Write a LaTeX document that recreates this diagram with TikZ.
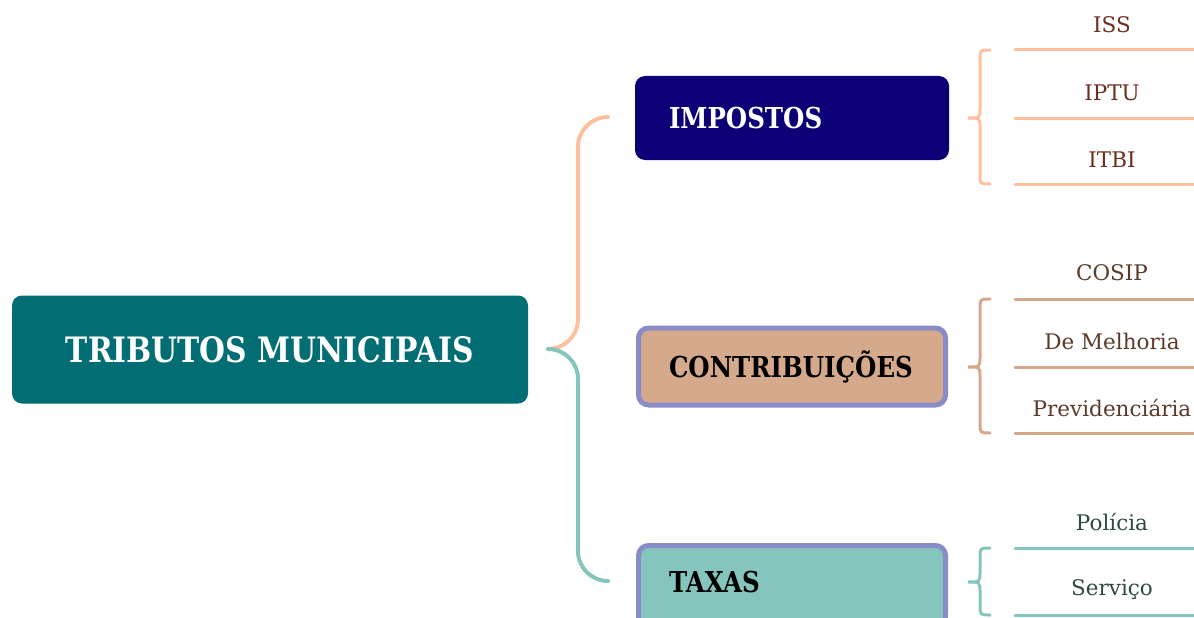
\documentclass[tikz,border=0pt]{standalone}
\usepackage{fontspec}
\setmainfont{DejaVu Serif}
\newfontfamily\headfont{DejaVu Serif}[FakeStretch=0.85]
\definecolor{rootc}{HTML}{026E73}
\definecolor{impc}{HTML}{0B0075}
\definecolor{conc}{HTML}{D5A98B}
\definecolor{taxc}{HTML}{86C5BE}
\definecolor{bordc}{HTML}{8A8CC8}
\definecolor{peach}{HTML}{FFC0A0}
\definecolor{tan}{HTML}{D4A88A}
\definecolor{imptext}{HTML}{6B2E1F}
\definecolor{context}{HTML}{5A3A2A}
\definecolor{taxtext}{HTML}{2E4A45}
\tikzset{
  catbox/.style={rounded corners=10pt, minimum width=314pt, minimum height=84pt,
    text width=246pt, align=left, inner xsep=34pt, inner ysep=0pt, anchor=north west,
    outer sep=0pt, font=\headfont\bfseries\fontsize{28.8}{30}\selectfont},
  framed/.style={draw=bordc, line width=5pt, minimum width=307pt, text width=246pt, inner xsep=30.5pt},
  leaf/.style={font=\fontsize{21.5}{24}\selectfont, inner sep=0pt},
  wire/.style={line width=4pt, line cap=round},
  brace/.style={line width=3pt, line cap=round},
}
\begin{document}
\begin{tikzpicture}[x=1pt,y=-1pt]
\useasboundingbox (0,0) rectangle (1194,618);
% root
\node[fill=rootc, rounded corners=10pt, minimum width=516pt, minimum height=108pt, outer sep=0pt,
  anchor=north west, text=white, font=\headfont\bfseries\fontsize{35}{40}\selectfont] (root) at (12,295.5) {TRIBUTOS MUNICIPAIS};
% categories
\node[catbox, fill=impc, text=white] (imp) at (635,76) {IMPOSTOS};
\node[catbox, framed, fill=conc, minimum height=77pt] (con) at (638.5,328) {CONTRIBUIÇÕES};
\node[catbox, framed, fill=taxc, minimum height=74pt] (tax) at (638.5,545.5) {TAXAS};
\fill[taxc] (641,600) rectangle (943,618);
\draw[bordc, line width=5pt] (638.5,600) -- (638.5,620) (945.5,600) -- (945.5,620);
% main connectors
\coordinate (j) at (548,349);
\coordinate (ji) at (608,117);
\coordinate (jt) at (608,581);
\draw[wire, peach, rounded corners=30pt] (j) -| (578,200) |- (ji);
\draw[wire, taxc, rounded corners=30pt] (j) -| (578,500) |- (jt);
% leaves: impostos
\node[leaf, text=imptext] (iss) at (1112,25) {ISS};
\node[leaf, text=imptext] (iptu) at (1112,93) {IPTU};
\node[leaf, text=imptext] (itbi) at (1112,160) {ITBI};
\draw[brace, peach] (1015,50) -- (1194,50);
\draw[brace, peach] (1015,118) -- (1194,118);
\draw[brace, peach] (1015,184) -- (1194,184);
\draw[brace, peach] (990,50) .. controls (980,50) .. (980,60) -- (980,108) .. controls (980,118) .. (968,118)
  .. controls (980,118) .. (980,128) -- (980,174) .. controls (980,184) .. (990,184);
% leaves: contribuicoes
\node[leaf, text=context] (cosip) at (1112,273) {COSIP};
\node[leaf, text=context] (mel) at (1112,341) {De Melhoria};
\node[leaf, text=context] (prev) at (1112,408) {Previdenciária};
\draw[brace, tan] (1015,299) -- (1194,299);
\draw[brace, tan] (1015,367) -- (1194,367);
\draw[brace, tan] (1015,433) -- (1194,433);
\draw[brace, tan] (990,299) .. controls (980,299) .. (980,309) -- (980,357) .. controls (980,367) .. (968,367)
  .. controls (980,367) .. (980,377) -- (980,423) .. controls (980,433) .. (990,433);
% leaves: taxas
\node[leaf, text=taxtext] (pol) at (1112,522) {Polícia};
\node[leaf, text=taxtext] (serv) at (1112,590) {Serviço};
\draw[brace, taxc] (1015,548) -- (1194,548);
\draw[brace, taxc] (1015,615) -- (1194,615);
\draw[brace, taxc] (990,548) .. controls (980,548) .. (980,558) -- (980,572) .. controls (980,582) .. (968,582)
  .. controls (980,582) .. (980,592) -- (980,605) .. controls (980,615) .. (990,615);
\end{tikzpicture}
\end{document}
